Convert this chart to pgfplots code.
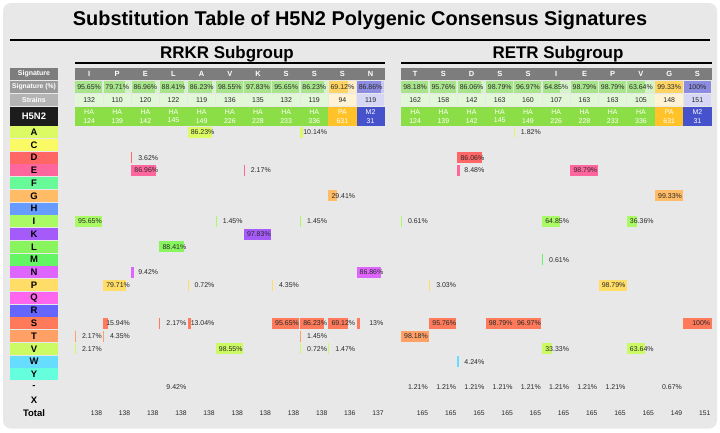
\documentclass[border=0pt]{standalone}
\usepackage{pgfplots}
\pgfplotsset{compat=1.18}
\usepackage{pgfplotstable}
\usepackage{fontspec}
\setmainfont{Liberation Sans}

\definecolor{panel}{RGB}{232,232,232}
\definecolor{hdrgray}{RGB}{125,125,125}
\definecolor{sigpctgray}{RGB}{155,155,155}
\definecolor{strgray}{RGB}{180,180,180}
\definecolor{h5black}{RGB}{28,28,28}
\definecolor{hasigbg}{RGB}{214,242,200}
\definecolor{hastrbg}{RGB}{226,246,216}
\definecolor{pasigbg}{RGB}{255,238,196}
\definecolor{pastrbg}{RGB}{255,243,212}
\definecolor{m2sigbg}{RGB}{200,200,242}
\definecolor{m2strbg}{RGB}{214,214,245}
\definecolor{habar}{RGB}{168,228,140}
\definecolor{pabar}{RGB}{255,212,100}
\definecolor{m2bar}{RGB}{140,140,225}
\definecolor{hagene}{RGB}{140,222,70}
\definecolor{pagene}{RGB}{255,194,40}
\definecolor{m2gene}{RGB}{70,82,204}
\definecolor{txt}{RGB}{40,40,40}
% amino acid colours, row 0 (A) ... row 19 (Y)
\definecolor{aa0}{RGB}{220,250,100}
\definecolor{aa1}{RGB}{250,250,100}
\definecolor{aa2}{RGB}{255,102,102}
\definecolor{aa3}{RGB}{255,102,158}
\definecolor{aa4}{RGB}{102,250,153}
\definecolor{aa5}{RGB}{255,187,102}
\definecolor{aa6}{RGB}{102,155,255}
\definecolor{aa7}{RGB}{170,250,102}
\definecolor{aa8}{RGB}{165,90,250}
\definecolor{aa9}{RGB}{136,245,95}
\definecolor{aa10}{RGB}{100,245,100}
\definecolor{aa11}{RGB}{222,102,255}
\definecolor{aa12}{RGB}{255,221,102}
\definecolor{aa13}{RGB}{255,102,238}
\definecolor{aa14}{RGB}{102,102,255}
\definecolor{aa15}{RGB}{255,122,90}
\definecolor{aa16}{RGB}{255,160,102}
\definecolor{aa17}{RGB}{204,250,100}
\definecolor{aa18}{RGB}{102,221,255}
\definecolor{aa19}{RGB}{102,255,221}

\pgfplotsset{
 lab/.style n args={2}{only marks, mark=none, point meta=explicit symbolic,
   nodes near coords={#1}, nodes near coords style={inner sep=0pt, #2}},
}

\newcommand{\colLa}{75}
\newcommand{\colWa}{28.15}
\newcommand{\colLb}{401}
\newcommand{\colWb}{28.23}
\newcommand{\rowY}{132.2}
\newcommand{\rowH}{12.75}

% substitution bars of one row (a vertical stroke whose width is the bar length):
% table, left, width, row, colour
\newcommand{\aabar}[5]{\addplot[draw=#5, point meta=\thisrow{p},
   quiver={u=0, v=11, every arrow/.append style={line width={(\pgfplotspointmetatransformed/1000)*#3bp}}},
   restrict expr to domain={\thisrow{r}}{#4:#4}]
   table[x expr=#2+#3*\thisrow{c}+#3*\thisrow{p}/200, y expr=\rowY+\rowH*\thisrow{r}-5.5] {#1};}
% signature % bars of one gene type: table, left, width, type, colour
\newcommand{\sigbar}[5]{\addplot[draw=#5,
   quiver={u=\thisrow{pct}*(#3-0.8)/100, v=0, every arrow/.append style={line width=12.7bp}},
   restrict expr to domain={\thisrow{t}}{#4:#4}]
   table[x expr=#2+#3*\thisrow{c}+0.4, y expr=86.95] {#1};}

% header data: column, signature, signature %, strains, gene, position, total, gene type
\pgfplotstableread{
c sig pct strains gene pos total t
0 I 95.65 132 HA 124 138 0
1 P 79.71 110 HA 139 138 0
2 E 86.96 120 HA 142 138 0
3 L 88.41 122 HA 145 138 0
4 A 86.23 119 HA 149 138 0
5 V 98.55 136 HA 226 138 0
6 K 97.83 135 HA 228 138 0
7 S 95.65 132 HA 233 138 0
8 S 86.23 119 HA 336 138 0
9 S 69.12 94 PA 631 136 1
10 N 86.86 119 M2 31 137 2
}\hrrkr

\pgfplotstableread{
c sig pct strains gene pos total t
0 T 98.18 162 HA 124 165 0
1 S 95.76 158 HA 139 165 0
2 D 86.06 142 HA 142 165 0
3 S 98.79 163 HA 145 165 0
4 S 96.97 160 HA 149 165 0
5 I 64.85 107 HA 226 165 0
6 E 98.79 163 HA 228 165 0
7 P 98.79 163 HA 233 165 0
8 V 63.64 105 HA 336 165 0
9 G 99.33 148 PA 631 149 1
10 S 100 151 M2 31 151 2
}\hretr

% substitutions: column, row (A=0 ... Y=19, -=20, X=21), percent
\pgfplotstableread{
c r p
4 0 86.23
8 0 10.14
2 2 3.62
2 3 86.96
6 3 2.17
9 5 29.41
0 7 95.65
5 7 1.45
8 7 1.45
6 8 97.83
3 9 88.41
2 11 9.42
10 11 86.86
1 12 79.71
4 12 0.72
7 12 4.35
1 15 15.94
3 15 2.17
4 15 13.04
7 15 95.65
8 15 86.23
9 15 69.12
10 15 13
0 16 2.17
1 16 4.35
8 16 1.45
0 17 2.17
5 17 98.55
8 17 0.72
9 17 1.47
3 20 9.42
}\rrkr

\pgfplotstableread{
c r p
4 0 1.82
2 2 86.06
2 3 8.48
6 3 98.79
9 5 99.33
0 7 0.61
5 7 64.85
8 7 36.36
5 10 0.61
1 12 3.03
7 12 98.79
1 15 95.76
3 15 98.79
4 15 96.97
10 15 100
0 16 98.18
5 17 33.33
8 17 63.64
2 18 4.24
0 20 1.21
1 20 1.21
2 20 1.21
3 20 1.21
4 20 1.21
5 20 1.21
6 20 1.21
7 20 1.21
9 20 0.67
}\retr

\pgfplotstableread{
r lab
0 A
1 C
2 D
3 E
4 F
5 G
6 H
7 I
8 K
9 L
10 M
11 N
12 P
13 Q
14 R
15 S
16 T
17 V
18 W
19 Y
20 -
21 X
22 Total
}\rows

\begin{document}
\begin{tikzpicture}
\begin{axis}[
  x=1bp, y=1bp, y dir=reverse,
  xmin=0, xmax=720, ymin=0, ymax=432,
  hide axis, clip=false,
  point meta min=0, point meta max=100,
]
\fill[white] (0,0) rectangle (720,432);
\fill[panel, rounded corners=8bp] (3,3) rectangle (717,428.5);

% titles
\node[anchor=base, font=\bfseries\fontsize{20}{24}\selectfont] at (360,25.5) {Substitution Table of H5N2 Polygenic Consensus Signatures};
\draw[line width=2.5bp] (10,40) -- (710,40);
\node[anchor=base, font=\bfseries\fontsize{17}{20}\selectfont] at (227,58) {RRKR Subgroup};
\node[anchor=base, font=\bfseries\fontsize{17}{20}\selectfont] at (558,58) {RETR Subgroup};
\draw[line width=2.3bp] (75,62.9) -- (385,62.9);
\draw[line width=2.3bp] (401,62.9) -- (712,62.9);

% left header cells
\fill[hdrgray] (10,68) rectangle (58,80);
\fill[sigpctgray] (10,80.6) rectangle (58,93.3);
\fill[strgray] (10,93.8) rectangle (58,106.3);
\fill[h5black] (10,106.8) rectangle (58,125.6);
\node[font=\bfseries\fontsize{7}{8}\selectfont, text=white] at (34,74) {Signature};
\node[font=\bfseries\fontsize{6.8}{8}\selectfont, text=white] at (34,87) {Signature (\%)};
\node[font=\bfseries\fontsize{7}{8}\selectfont, text=white] at (34,100) {Strains};
\node[font=\bfseries\fontsize{9.5}{10}\selectfont, text=white] at (34,116.2) {H5N2};

% row label cells
\pgfplotsinvokeforeach{0,...,19}{
  \fill[aa#1] (10,{\rowY+\rowH*#1-6}) rectangle (58,{\rowY+\rowH*#1+6});
}

% header cells of the two groups
\fill[hdrgray] (\colLa,68) rectangle ({\colLa+11*\colWa},80);
\fill[hdrgray] (\colLb,68) rectangle ({\colLb+11*\colWb},80);
\pgfplotsinvokeforeach{0,...,8}{
  \fill[hasigbg] ({\colLa+\colWa*#1+0.4},80.6) rectangle ({\colLa+\colWa*(#1+1)-0.4},93.3);
  \fill[hastrbg] ({\colLa+\colWa*#1+0.4},93.8) rectangle ({\colLa+\colWa*(#1+1)-0.4},106.3);
  \fill[hasigbg] ({\colLb+\colWb*#1+0.4},80.6) rectangle ({\colLb+\colWb*(#1+1)-0.4},93.3);
  \fill[hastrbg] ({\colLb+\colWb*#1+0.4},93.8) rectangle ({\colLb+\colWb*(#1+1)-0.4},106.3);
}
\fill[pasigbg] ({\colLa+\colWa*9+0.4},80.6) rectangle ({\colLa+\colWa*10-0.4},93.3);
\fill[pastrbg] ({\colLa+\colWa*9+0.4},93.8) rectangle ({\colLa+\colWa*10-0.4},106.3);
\fill[m2sigbg] ({\colLa+\colWa*10+0.4},80.6) rectangle ({\colLa+\colWa*11-0.4},93.3);
\fill[m2strbg] ({\colLa+\colWa*10+0.4},93.8) rectangle ({\colLa+\colWa*11-0.4},106.3);
\fill[pasigbg] ({\colLb+\colWb*9+0.4},80.6) rectangle ({\colLb+\colWb*10-0.4},93.3);
\fill[pastrbg] ({\colLb+\colWb*9+0.4},93.8) rectangle ({\colLb+\colWb*10-0.4},106.3);
\fill[m2sigbg] ({\colLb+\colWb*10+0.4},80.6) rectangle ({\colLb+\colWb*11-0.4},93.3);
\fill[m2strbg] ({\colLb+\colWb*10+0.4},93.8) rectangle ({\colLb+\colWb*11-0.4},106.3);
\fill[hagene] (\colLa,106.8) rectangle ({\colLa+9*\colWa},125.6);
\fill[pagene] ({\colLa+9*\colWa},106.8) rectangle ({\colLa+10*\colWa},125.6);
\fill[m2gene] ({\colLa+10*\colWa},106.8) rectangle ({\colLa+11*\colWa},125.6);
\fill[hagene] (\colLb,106.8) rectangle ({\colLb+9*\colWb},125.6);
\fill[pagene] ({\colLb+9*\colWb},106.8) rectangle ({\colLb+10*\colWb},125.6);
\fill[m2gene] ({\colLb+10*\colWb},106.8) rectangle ({\colLb+11*\colWb},125.6);

% signature % bars
\sigbar{\hrrkr}{\colLa}{\colWa}{0}{habar}
\sigbar{\hrrkr}{\colLa}{\colWa}{1}{pabar}
\sigbar{\hrrkr}{\colLa}{\colWa}{2}{m2bar}
\sigbar{\hretr}{\colLb}{\colWb}{0}{habar}
\sigbar{\hretr}{\colLb}{\colWb}{1}{pabar}
\sigbar{\hretr}{\colLb}{\colWb}{2}{m2bar}

% header texts
\addplot[lab={\pgfplotspointmeta}{anchor=center, font=\bfseries\fontsize{7.5}{8}\selectfont, text=white}]
   table[x expr=\colLa+\colWa*(\thisrow{c}+0.5), y expr=74, meta=sig] {\hrrkr};
\addplot[lab={\pgfplotspointmeta}{anchor=center, font=\bfseries\fontsize{7.5}{8}\selectfont, text=white}]
   table[x expr=\colLb+\colWb*(\thisrow{c}+0.5), y expr=74, meta=sig] {\hretr};
\addplot[lab={\pgfplotspointmeta\%}{anchor=center, font=\fontsize{7}{8}\selectfont, text=txt}]
   table[x expr=\colLa+\colWa*(\thisrow{c}+0.5), y expr=87, meta=pct] {\hrrkr};
\addplot[lab={\pgfplotspointmeta\%}{anchor=center, font=\fontsize{7}{8}\selectfont, text=txt}]
   table[x expr=\colLb+\colWb*(\thisrow{c}+0.5), y expr=87, meta=pct] {\hretr};
\addplot[lab={\pgfplotspointmeta}{anchor=center, font=\fontsize{7}{8}\selectfont, text=txt}]
   table[x expr=\colLa+\colWa*(\thisrow{c}+0.5), y expr=100, meta=strains] {\hrrkr};
\addplot[lab={\pgfplotspointmeta}{anchor=center, font=\fontsize{7}{8}\selectfont, text=txt}]
   table[x expr=\colLb+\colWb*(\thisrow{c}+0.5), y expr=100, meta=strains] {\hretr};
\addplot[lab={\pgfplotspointmeta}{anchor=center, font=\fontsize{7}{8}\selectfont, text=white}]
   table[x expr=\colLa+\colWa*(\thisrow{c}+0.5), y expr=112, meta=gene] {\hrrkr};
\addplot[lab={\pgfplotspointmeta}{anchor=center, font=\fontsize{7}{8}\selectfont, text=white}]
   table[x expr=\colLb+\colWb*(\thisrow{c}+0.5), y expr=112, meta=gene] {\hretr};
\addplot[lab={\pgfplotspointmeta}{anchor=center, font=\fontsize{7}{8}\selectfont, text=white}]
   table[x expr=\colLa+\colWa*(\thisrow{c}+0.5), y expr=120.6, meta=pos] {\hrrkr};
\addplot[lab={\pgfplotspointmeta}{anchor=center, font=\fontsize{7}{8}\selectfont, text=white}]
   table[x expr=\colLb+\colWb*(\thisrow{c}+0.5), y expr=120.6, meta=pos] {\hretr};
% totals
\addplot[lab={\pgfplotspointmeta}{anchor=east, font=\fontsize{6.8}{8}\selectfont, text=txt}]
   table[x expr=\colLa+\colWa*\thisrow{c}+27.3, y expr=\rowY+22*\rowH, meta=total] {\hrrkr};
\addplot[lab={\pgfplotspointmeta}{anchor=east, font=\fontsize{6.8}{8}\selectfont, text=txt}]
   table[x expr=\colLb+\colWb*\thisrow{c}+27.3, y expr=\rowY+22*\rowH, meta=total] {\hretr};

% row labels
\addplot[lab={\pgfplotspointmeta}{anchor=center, font=\bfseries\fontsize{9.5}{10}\selectfont, text=black}]
   table[x expr=34, y expr=\rowY+\rowH*\thisrow{r}, meta=lab] {\rows};

% substitution bars, RRKR
\aabar{\rrkr}{\colLa}{\colWa}{0}{aa0}
\aabar{\rrkr}{\colLa}{\colWa}{2}{aa2}
\aabar{\rrkr}{\colLa}{\colWa}{3}{aa3}
\aabar{\rrkr}{\colLa}{\colWa}{5}{aa5}
\aabar{\rrkr}{\colLa}{\colWa}{7}{aa7}
\aabar{\rrkr}{\colLa}{\colWa}{8}{aa8}
\aabar{\rrkr}{\colLa}{\colWa}{9}{aa9}
\aabar{\rrkr}{\colLa}{\colWa}{11}{aa11}
\aabar{\rrkr}{\colLa}{\colWa}{12}{aa12}
\aabar{\rrkr}{\colLa}{\colWa}{15}{aa15}
\aabar{\rrkr}{\colLa}{\colWa}{16}{aa16}
\aabar{\rrkr}{\colLa}{\colWa}{17}{aa17}
% substitution bars, RETR
\aabar{\retr}{\colLb}{\colWb}{0}{aa0}
\aabar{\retr}{\colLb}{\colWb}{2}{aa2}
\aabar{\retr}{\colLb}{\colWb}{3}{aa3}
\aabar{\retr}{\colLb}{\colWb}{5}{aa5}
\aabar{\retr}{\colLb}{\colWb}{7}{aa7}
\aabar{\retr}{\colLb}{\colWb}{10}{aa10}
\aabar{\retr}{\colLb}{\colWb}{12}{aa12}
\aabar{\retr}{\colLb}{\colWb}{15}{aa15}
\aabar{\retr}{\colLb}{\colWb}{16}{aa16}
\aabar{\retr}{\colLb}{\colWb}{17}{aa17}
\aabar{\retr}{\colLb}{\colWb}{18}{aa18}

% percentage labels
\addplot[lab={\pgfplotspointmeta\%}{anchor=east, font=\fontsize{7}{8}\selectfont, text=txt}]
   table[x expr=\colLa+\colWa*\thisrow{c}+27, y expr=\rowY+\rowH*\thisrow{r}, meta=p] {\rrkr};
\addplot[lab={\pgfplotspointmeta\%}{anchor=east, font=\fontsize{7}{8}\selectfont, text=txt}]
   table[x expr=\colLb+\colWb*\thisrow{c}+27, y expr=\rowY+\rowH*\thisrow{r}, meta=p] {\retr};
\end{axis}
\end{tikzpicture}
\end{document}
